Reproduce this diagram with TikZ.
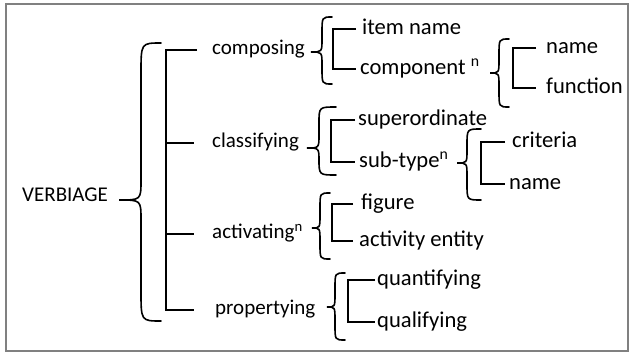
\documentclass[tikz,border=0pt]{standalone}
\usepackage{fontspec}
\setmainfont{Carlito}

\begin{document}
\begin{tikzpicture}[x=1pt,y=-1pt,
    lbl/.style={anchor=west,inner sep=0pt,text height=9.7pt,text depth=0pt,
      font=\fontsize{21}{24}\selectfont},
    sublbl/.style={lbl,text height=10.5pt,font=\fontsize{22.6}{26}\selectfont},
    bar/.style={line width=1.9pt},
    curly/.style={line width=1.6pt,line cap=round}]
    \useasboundingbox (0,0) rectangle (634,353);
    % Marco
    \draw[gray,line width=2.4pt] (6,4) rectangle (628,351);
    % Raiz y primer nivel
    \node[lbl] (verbiage) at (22,197) {VERBIAGE};
    \node[lbl] (composing) at (212,50) {composing};
    \node[lbl] (classifying) at (212,143) {classifying};
    \node[lbl] (activating) at (212,234) {activating\textsuperscript{n}};
    \node[lbl] (propertying) at (215,310) {propertying};
    % Segundo nivel
    \node[sublbl] (itemname) at (362,29) {item name};
    \node[sublbl] (component) at (360,69) {component \textsuperscript{n}};
    \node[sublbl] (superord) at (358,120) {superordinate};
    \node[sublbl] (subtype) at (359,162) {sub-type\textsuperscript{n}};
    \node[sublbl] (figure) at (361,204) {figure};
    \node[sublbl] (activity) at (359,241) {activity entity};
    \node[sublbl] (quantifying) at (377,280) {quantifying};
    \node[sublbl] (qualifying) at (377,322) {qualifying};
    % Tercer nivel
    \node[sublbl] (namea) at (546,48) {name};
    \node[sublbl] (function) at (546,88) {function};
    \node[sublbl] (criteria) at (512,142) {criteria};
    \node[sublbl] (nameb) at (509,184) {name};
    % Llaves
    \foreach \xe/\xv/\xt/\yt/\ym/\yb/\ra/\rb in {161/141/119/43/200/321/30/20,
        332/322/311/17/52/84/16/13, 336/319/307/107/148/175/16/13,
        330/320/312/193/228/259/15/13, 345/335/327/273/307/340/15/13,
        509/499/490/39/73/107/16/13, 481/467/457/129/163/200/16/13}
      \draw[curly] (\xe,\yt) .. controls (\xv,\yt) .. (\xv,\yt+\ra) -- (\xv,\ym-\rb)
        .. controls (\xv,\ym) .. (\xt,\ym) .. controls (\xv,\ym) .. (\xv,\ym+\rb)
        -- (\xv,\yb-\ra) .. controls (\xv,\yb) .. (\xe,\yb);
    % Corchetes
    \coordinate (spine) at (166,0);
    \draw[bar] ([xshift=-15]composing.west) -- (spine |- composing.west)
      -- (spine |- propertying.west) -- ([xshift=-21]propertying.west);
    \foreach \n in {classifying,activating}
      \draw[bar] (spine |- \n.west) -- ([xshift=-18]\n.west);
    \foreach \up/\lo/\gu/\gl/\w in {itemname/component/6/4/27, namea/function/10/10/33,
        superord/subtype/3/4/28, criteria/nameb/7/4/28, figure/activity/8/6/27,
        quantifying/qualifying/2/2/29}
      \draw[bar] ([xshift=-\gu]\up.west) -| ([xshift=-\w]\lo.west) -- ([xshift=-\gl]\lo.west);
\end{tikzpicture}
\end{document}
